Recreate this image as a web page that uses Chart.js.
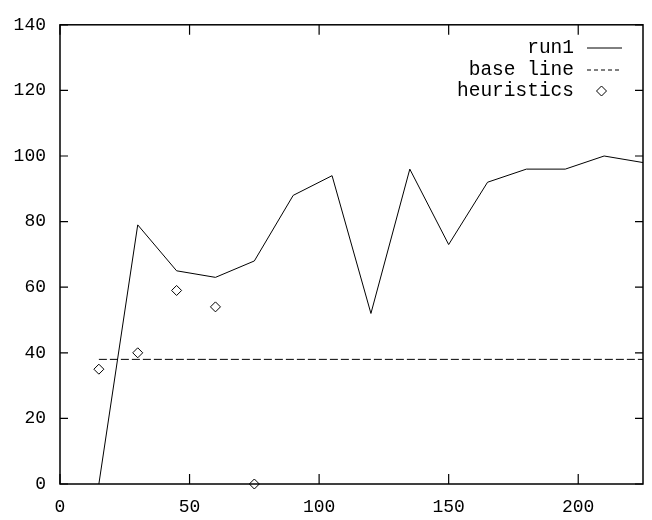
<!DOCTYPE html>
<html>
<head>
<meta charset="utf-8">
<script src="https://cdn.jsdelivr.net/npm/chart.js@4/dist/chart.umd.min.js"></script>
<style>
  body { margin: 0; background: #fff; }
</style>
</head>
<body>
<canvas id="myChart" width="652" height="520"></canvas>
<script>
// values
const runX = [15, 30, 45, 60, 75, 90, 105, 120, 135, 150, 165, 180, 195, 210, 225];
const run1 = [0, 79, 65, 63, 68, 88, 94, 52, 96, 73, 92, 96, 96, 100, 98];
const baseX = [15, 225];
const baseLine = [38, 38];
const heurX = [15, 30, 45, 60, 75];
const heuristics = [35, 40, 59, 54, 0];
const seriesNames = ["run1", "base line", "heuristics"];

const pts = (xs, ys) => xs.map((x, i) => ({ x: x, y: ys[i] }));

Chart.defaults.font.family = "'Liberation Mono', 'Courier New', monospace";
Chart.defaults.font.size = 18;
Chart.defaults.color = "#000";

// gnuplot style box with inward ticks on all four sides
const frame = {
    id: "frame",
    afterDatasetsDraw(chart) {
        const { ctx, chartArea: a, scales } = chart;
        ctx.save();
        ctx.strokeStyle = "#000";
        ctx.lineWidth = 1.5;
        ctx.strokeRect(a.left, a.top, a.right - a.left, a.bottom - a.top);
        ctx.lineWidth = 1.2;
        ctx.beginPath();
        scales.x.ticks.forEach(t => {
            const px = scales.x.getPixelForValue(t.value);
            ctx.moveTo(px, a.bottom); ctx.lineTo(px, a.bottom - 10);
            ctx.moveTo(px, a.top); ctx.lineTo(px, a.top + 10);
        });
        scales.y.ticks.forEach(t => {
            const py = scales.y.getPixelForValue(t.value);
            ctx.moveTo(a.left, py); ctx.lineTo(a.left + 8, py);
            ctx.moveTo(a.right, py); ctx.lineTo(a.right - 8, py);
        });
        ctx.stroke();
        ctx.restore();
    }
};

// key in the top right corner: text right aligned, sample to its right
const key = {
    id: "key",
    afterDraw(chart) {
        const { ctx } = chart;
        const textRight = 574, x0 = 587, x1 = 622;
        const rows = [48, 70, 91];
        ctx.save();
        ctx.font = "19.5px 'Liberation Mono', 'Courier New', monospace";
        ctx.fillStyle = "#000";
        ctx.textAlign = "right";
        ctx.textBaseline = "middle";
        chart.data.datasets.forEach((ds, i) => {
            const y = rows[i];
            ctx.fillText(ds.label, textRight, y);
            ctx.strokeStyle = "#000";
            ctx.lineWidth = 1;
            if (ds.showLine === false) {
                const cx = (x0 + x1) / 2 - 3, r = 5;
                ctx.beginPath();
                ctx.moveTo(cx - r, y); ctx.lineTo(cx, y - r);
                ctx.lineTo(cx + r, y); ctx.lineTo(cx, y + r);
                ctx.closePath();
                ctx.stroke();
            } else {
                ctx.setLineDash(ds.borderDash ? [4, 3] : []);
                ctx.beginPath();
                ctx.moveTo(x0, y); ctx.lineTo(x1, y);
                ctx.stroke();
                ctx.setLineDash([]);
            }
        });
        ctx.restore();
    }
};

const config = {
    type: "line",
    data: {
        datasets: [
            {
                label: seriesNames[0],
                data: pts(runX, run1),
                borderColor: "#000",
                borderWidth: 1,
                pointRadius: 0,
                tension: 0
            },
            {
                label: seriesNames[1],
                data: pts(baseX, baseLine),
                borderColor: "#000",
                borderWidth: 1,
                borderDash: [8, 3],
                pointRadius: 0
            },
            {
                label: seriesNames[2],
                data: pts(heurX, heuristics),
                showLine: false,
                pointStyle: "rectRot",
                pointRadius: 5,
                pointBorderWidth: 1,
                pointBorderColor: "#000",
                pointBackgroundColor: "#fff",
                clip: false
            }
        ]
    },
    options: {
        responsive: false,
        animation: false,
        layout: { padding: { top: 13, right: 9, left: 0, bottom: 0 } },
        plugins: {
            legend: { display: false },
            tooltip: { enabled: false }
        },
        scales: {
            x: {
                type: "linear",
                min: 0,
                max: 225,
                grid: { display: false, drawTicks: false },
                border: { display: false },
                ticks: { stepSize: 50, includeBounds: false, padding: 12, maxRotation: 0 },
                afterFit: s => { s.height = 36; }
            },
            y: {
                min: 0,
                max: 140,
                grid: { display: false, drawTicks: false },
                border: { display: false },
                ticks: { stepSize: 20, padding: 14 },
                afterFit: s => { s.width = 60; }
            }
        }
    },
    plugins: [frame, key]
};

const myChart = new Chart(document.getElementById("myChart"), config);
</script>
</body>
</html>
